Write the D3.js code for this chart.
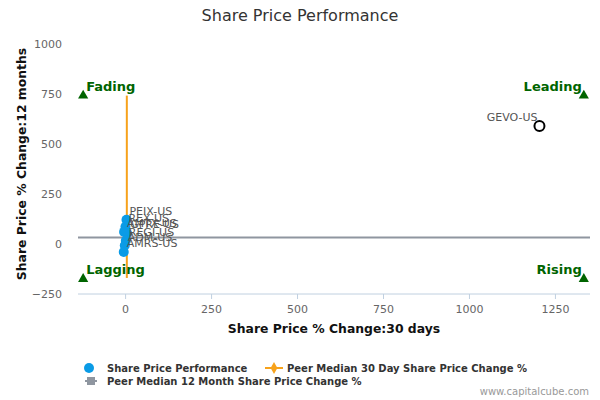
<!DOCTYPE html>
<html><head><meta charset="utf-8">
<script src="https://cdn.jsdelivr.net/npm/d3@7"></script>
<style>body{margin:0;background:#fff;}svg{display:block;font-family:"DejaVu Sans",Verdana,sans-serif;}</style>
</head><body>
<svg id="c" width="600" height="400"></svg>
<script>
const names = ["PEIX-US","REX-US","GPRE-US","AMTX-US","REGI-US","ADM-US","AMRS-US","GEVO-US"];
const x30 = [4, 1, 6, -3, 2, -1, -4, 1205];
const y12 = [120, 86, 52, 60, 16, -8, -40, 588];
const highlight = ["GEVO-US"];
const medianX = 5;
const medianY = 32;
const medianYRange = [-170, 740];
const xTicks = [0, 250, 500, 750, 1000, 1250];
const yTicks = [-250, 0, 250, 500, 750, 1000];
const quadrants = [
  {name:"Fading", qx:"min", qy:"max"},
  {name:"Leading", qx:"max", qy:"max"},
  {name:"Lagging", qx:"min", qy:"min"},
  {name:"Rising", qx:"max", qy:"min"}
];
const quadX = {min:-122, max:1334};
const quadY = {min:-175, max:740};
const legendItems = ["Share Price Performance","Peer Median 30 Day Share Price Change %","Peer Median 12 Month Share Price Change %"];

const svg = d3.select("#c");
const x = d3.scaleLinear().domain([-137, 1352]).range([78, 590]);
const y = d3.scaleLinear().domain([-250, 1000]).range([294, 43.5]);

svg.append("text").attr("x",300).attr("y",21).attr("text-anchor","middle")
  .attr("font-size",16).attr("fill","#333").text("Share Price Performance");

// x axis
const xa = svg.append("g").attr("transform","translate(0,294)")
  .call(d3.axisBottom(x).tickValues(xTicks).tickSize(5).tickPadding(6).tickFormat(d3.format("d")));
xa.select(".domain").attr("stroke","#c0d0e0").attr("d","M78,0H590");
xa.selectAll(".tick line").attr("stroke","#c0d0e0");
xa.selectAll(".tick text").attr("fill","#666").attr("font-size",11).attr("font-family","DejaVu Sans");

// y axis
const ya = svg.append("g").attr("transform","translate(64,0)")
  .call(d3.axisLeft(y).tickValues(yTicks).tickSize(0).tickPadding(2).tickFormat(d3.format("d")));
ya.select(".domain").remove();
ya.selectAll(".tick text").attr("fill","#666").attr("font-size",11).attr("font-family","DejaVu Sans");

svg.append("text").attr("x",334).attr("y",333).attr("text-anchor","middle")
  .attr("font-size",12.4).attr("font-weight","bold").attr("fill","#111").text("Share Price % Change:30 days");
svg.append("text").attr("transform","translate(26,164) rotate(-90)").attr("text-anchor","middle")
  .attr("font-size",12.4).attr("font-weight","bold").attr("fill","#111").text("Share Price % Change:12 months");

// median lines
svg.append("line").attr("x1",x(-137)).attr("x2",x(1352)).attr("y1",y(medianY)).attr("y2",y(medianY))
  .attr("stroke","#8f96a0").attr("stroke-width",2);
svg.append("line").attr("x1",x(medianX)).attr("x2",x(medianX)).attr("y1",y(medianYRange[0])).attr("y2",y(medianYRange[1]))
  .attr("stroke","#f7a21b").attr("stroke-width",2);

// quadrant markers
const tri = d3.symbol().type(d3.symbolTriangle).size(45);
quadrants.forEach(q=>{
  const px = x(quadX[q.qx]), py = y(quadY[q.qy]);
  svg.append("path").attr("d",tri()).attr("transform",`translate(${px},${py})`).attr("fill","#006400");
  svg.append("text").attr("x", q.qx==="min" ? px+3 : px-2).attr("y", py-5)
    .attr("text-anchor", q.qx==="min" ? "start" : "end")
    .attr("font-size",13).attr("font-weight","bold").attr("fill","#006400").text(q.name);
});

// points
const data = names.map((n,i)=>({n, x:x30[i], y:y12[i], hi: highlight.includes(n)}));
svg.selectAll("circle.pt").data(data).join("circle").attr("class","pt")
  .attr("cx",d=>x(d.x)).attr("cy",d=>y(d.y)).attr("r",5)
  .attr("fill",d=>d.hi?"#fff":"#0a9be6").attr("stroke",d=>d.hi?"#000":"none").attr("stroke-width",2);
svg.selectAll("text.lbl").data(data).join("text").attr("class","lbl")
  .attr("x",d=>d.hi? x(d.x)-2 : x(d.x)+3).attr("y",d=>y(d.y)-5)
  .attr("text-anchor",d=>d.hi?"end":"start")
  .attr("font-size",11).attr("fill","#555").text(d=>d.n);

// legend
const lg = svg.append("g").attr("font-size",10).attr("font-weight","bold").attr("fill","#333");
lg.append("circle").attr("cx",89).attr("cy",368).attr("r",5).attr("fill","#0a9be6");
lg.append("text").attr("x",107).attr("y",372).text(legendItems[0]);
lg.append("line").attr("x1",265).attr("x2",283).attr("y1",368).attr("y2",368).attr("stroke","#f7a21b").attr("stroke-width",2);
lg.append("path").attr("d",d3.symbol().type(d3.symbolDiamond).size(40)()).attr("transform","translate(274,368)").attr("fill","#f7a21b");
lg.append("text").attr("x",287).attr("y",372).text(legendItems[1]);
lg.append("line").attr("x1",85).attr("x2",97).attr("y1",381).attr("y2",381).attr("stroke","#8f96a0").attr("stroke-width",2);
lg.append("rect").attr("x",87).attr("y",377).attr("width",8).attr("height",8).attr("fill","#8f96a0");
lg.append("text").attr("x",107).attr("y",385).text(legendItems[2]);

svg.append("text").attr("x",589).attr("y",395).attr("text-anchor","end").attr("font-size",10).attr("fill","#999").text("www.capitalcube.com");
</script>
</body></html>
